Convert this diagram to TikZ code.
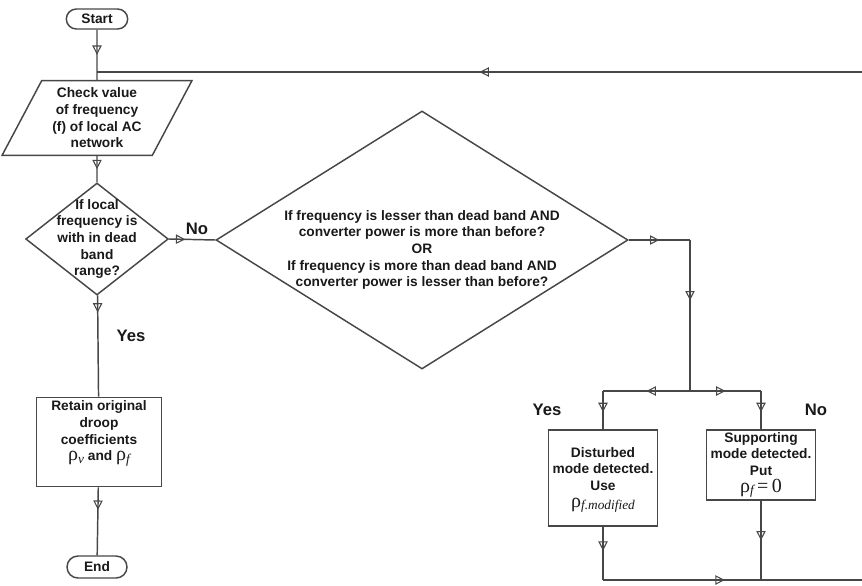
\documentclass[tikz,border=0pt]{standalone}
\usepackage{fontspec}
\setmainfont{Liberation Sans}
\newfontfamily\greekfont{Liberation Serif}
\usetikzlibrary{shapes.geometric,shapes.misc,arrows.meta,decorations.markings}

% upright rho with italic index
\newcommand{\rhoidx}[1]{{\greekfont\mdseries\fontsize{15}{15}\selectfont ρ}{\greekfont\mdseries\itshape\fontsize{10}{10}\selectfont\raisebox{-2pt}{#1}}}

\begin{document}
\begin{tikzpicture}[x=0.75pt, y=-0.75pt, line width=1.1pt, color=black!72, text=black!90,
    font=\bfseries\fontsize{10.3}{12.5}\selectfont,
    terminal/.style={rounded rectangle, draw, minimum width=48pt, minimum height=15pt, inner sep=1pt},
    inout/.style={trapezium, trapezium left angle=62, trapezium right angle=118, trapezium stretches=true,
      draw, minimum width=142.5pt, minimum height=56pt, align=center, inner sep=0pt},
    decision/.style={diamond, draw, inner sep=0pt},
    process/.style={rectangle, draw, align=center, inner sep=1pt},
    plain/.style={align=center, inner sep=0pt},
    branchtxt/.style={font=\bfseries\fontsize{12.5}{14}\selectfont},
    midarrow/.style={postaction={decorate}, decoration={markings,
      mark=at position #1 with {\arrow{Triangle[open,length=7pt,width=7pt,line width=0.8pt]}}}}]

  \useasboundingbox (0,0) rectangle (862,585);

  % terminals
  \node[terminal] (start) at (97,19) {Start};
  \node[terminal, minimum width=47pt, minimum height=16.5pt] (stop) at (97,567) {End};

  % input
  \node[inout] (check) at (97,118) {Check value\\of frequency\\(f) of local AC\\network};

  % decisions
  \node[decision, minimum width=107pt, minimum height=84pt] (d1) at (97,239) {};
  \node[plain] (d1txt) at (97,239) {If local\\frequency is\\with in dead\\band\\range?};
  \node[decision, minimum width=309pt, minimum height=193.5pt] (d2) at (422,240) {};
  \node[plain] (d2txt) at (422,250) {If frequency is lesser than dead band AND\\converter power is more than before?\\OR\\If frequency is more than dead band AND\\converter power is lesser than before?};

  % processes
  \node[process, minimum width=94pt, minimum height=67pt] (retain) at (99,442) {Retain original\\droop\\coefficients\\\rhoidx{v} and \rhoidx{f}\\[4pt]};
  \node[process, minimum width=82pt, minimum height=72pt] (dist) at (603,478) {\\[-2pt]Disturbed\\mode detected.\\Use\\\rhoidx{f.modified}};
  \node[process, minimum width=82pt, minimum height=52.5pt] (supp) at (761,465) {Supporting\\mode detected.\\Put\\\rhoidx{f}{\greekfont\mdseries\fontsize{15}{15}\selectfont\,=\,0}};

  % branch labels
  \node[branchtxt] (no1) at (197,229) {No};
  \node[branchtxt] (yes1) at (131,336) {Yes};
  \node[branchtxt] (yes2) at (547,410) {Yes};
  \node[branchtxt] (no2) at (816,410) {No};

  % corners of the connectors
  \coordinate (rtop) at (862,72);
  \coordinate (jtop) at (97,72);
  \coordinate (rt) at (690,240);
  \coordinate (split) at (690,391);
  \coordinate (yl) at (603,391);
  \coordinate (nr) at (761,391);
  \coordinate (bl) at (603,580);
  \coordinate (br) at (761,580);
  \coordinate (rbot) at (862,580);

  % connectors
  \draw[midarrow=0.5] (start) -- (check);
  \draw[midarrow=0.5] (rtop) -- (jtop);
  \draw[midarrow=0.5] (check) -- (d1);
  \draw[midarrow=0.35] (d1.east) -- (d2.west);
  \draw[midarrow=0.5] (d2.east) -- (rt);
  \draw[midarrow=0.4] (rt) -- (split);
  \draw[midarrow=0.5] (split) -- (yl);
  \draw[midarrow=0.55] (yl) -- (dist);
  \draw[midarrow=0.5] (split) -- (nr);
  \draw[midarrow=0.55] (nr) -- (supp);
  \draw[midarrow=0.45] (dist) -- (bl);
  \draw[midarrow=0.5] (supp) -- (br);
  \draw[midarrow=0.47] (bl) -- (rbot);
  \draw[midarrow=0.17] (d1) -- (retain);
  \draw[midarrow=0.33] (retain) -- (stop);

\end{tikzpicture}
\end{document}
